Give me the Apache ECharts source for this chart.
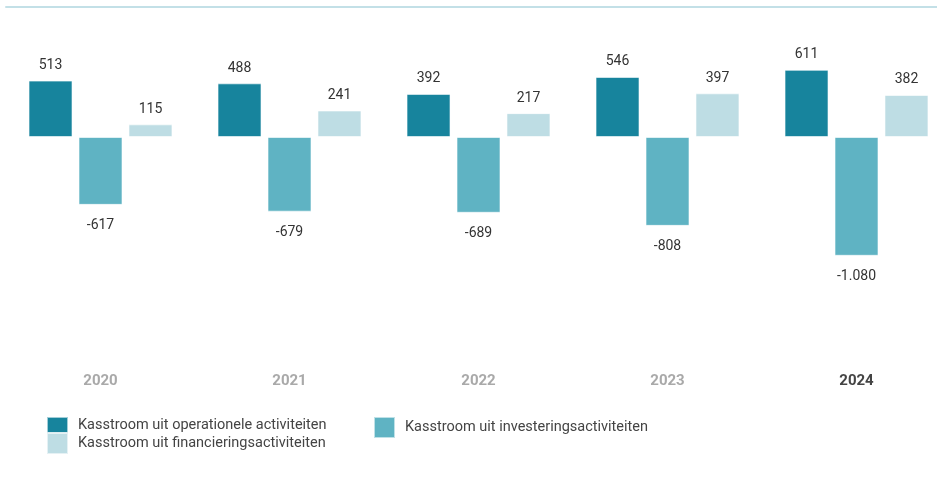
<!DOCTYPE html>
<html>
<head>
<meta charset="utf-8">
<script src="https://cdn.jsdelivr.net/npm/echarts@6/dist/echarts.min.js"></script>
<style>
  html, body { margin: 0; padding: 0; background: #fff; }
  #chart { width: 937px; height: 478px; }
</style>
</head>
<body>
<div id="chart"></div>
<script>
// jaren (x-as)
const years = ['2020', '2021', '2022', '2023', '2024']
// kasstromen per jaar
const operationeel = [513, 488, 392, 546, 611]
const investering = [-617, -679, -689, -808, -1080]
const financiering = [115, 241, 217, 397, 382]
const seriesNames = [
  'Kasstroom uit operationele activiteiten',
  'Kasstroom uit investeringsactiviteiten',
  'Kasstroom uit financieringsactiviteiten'
]

const font = 'Roboto, sans-serif'
const colors = ['#17849d', '#5fb3c3', '#bedde4']

// punt als duizendtalscheiding
function fmt (v) {
  const s = Math.abs(v).toString().replace(/\B(?=(\d{3})+(?!\d))/g, '.')
  return (v < 0 ? '-' : '') + s
}

const chart = echarts.init(document.getElementById('chart'))

function makeSeries (name, data, idx) {
  return {
    name: name,
    type: 'bar',
    barWidth: 44,
    barGap: '13.6%',
    itemStyle: {
      color: colors[idx],
      borderColor: 'rgba(255,255,255,0.6)',
      borderWidth: 1
    },
    data: data.map(v => ({
      value: v,
      label: {
        position: v < 0 ? 'bottom' : 'top',
        distance: v < 0 ? 14 : 8
      }
    })),
    label: {
      show: true,
      color: '#333',
      fontSize: 14,
      fontFamily: font,
      formatter: p => fmt(p.value)
    }
  }
}

// legenda's los van elkaar, zoals in het origineel
function makeLegend (name, left, top, h, padTop) {
  return {
    data: [name],
    left: left,
    top: top,
    padding: 0,
    itemWidth: 21,
    itemHeight: h,
    icon: 'rect',
    selectedMode: false,
    textStyle: {
      color: '#444',
      fontSize: 14.5,
      fontFamily: font,
      padding: [padTop, 0, 0, 5]
    }
  }
}

const option = {
  animation: false,
  grid: {
    left: 6,
    width: 945,
    top: 7,
    bottom: 113,
    outerBoundsMode: 'none'
  },
  legend: [
    makeLegend(seriesNames[0], 46, 416, 16, 14),
    makeLegend(seriesNames[1], 373, 416, 21, 9),
    makeLegend(seriesNames[2], 46, 432, 21, 7)
  ],
  xAxis: [
    {
      type: 'category',
      position: 'bottom',
      data: years.map((y, i) => i === years.length - 1
        ? { value: y, textStyle: { color: '#444' } }
        : y),
      axisLine: { show: false },
      axisTick: { show: false },
      axisLabel: {
        color: '#a9a9a9',
        fontSize: 15,
        fontWeight: 'bold',
        fontFamily: font,
        margin: 9
      }
    },
    {
      type: 'category',
      position: 'top',
      data: years,
      axisLine: { show: true, lineStyle: { color: '#c3e0e7', width: 2 } },
      axisTick: { show: false },
      axisLabel: { show: false }
    }
  ],
  yAxis: {
    type: 'value',
    min: -2073,
    max: 1182,
    show: false,
    splitLine: { show: false }
  },
  series: [
    makeSeries(seriesNames[0], operationeel, 0),
    makeSeries(seriesNames[1], investering, 1),
    makeSeries(seriesNames[2], financiering, 2)
  ]
}

chart.setOption(option)
</script>
</body>
</html>
